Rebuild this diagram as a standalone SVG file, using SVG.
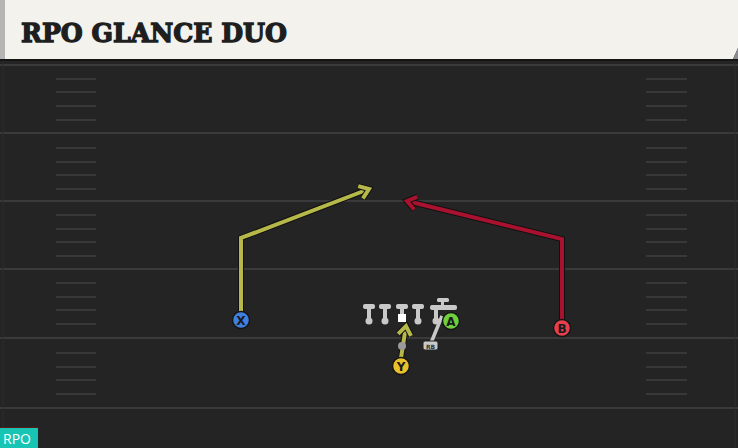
<svg xmlns="http://www.w3.org/2000/svg" width="738" height="448" viewBox="0 0 738 448">
<defs>
<style>
.yl{stroke:#3a3a3a;stroke-width:2}
.out{fill:none;stroke:#111;stroke-width:6;stroke-linejoin:miter;stroke-linecap:butt}
.ry{fill:none;stroke:#b6b94a;stroke-width:4;stroke-linejoin:miter}
.rr{fill:none;stroke:#a8122f;stroke-width:4;stroke-linejoin:miter}
.pl{stroke:#161616;stroke-width:1.5}
.lt{font-family:"DejaVu Sans",sans-serif;font-weight:bold;font-size:12px;fill:#1a1a1a;text-anchor:middle}
.ol{fill:#c9c9c9}
</style>
<marker id="ay" markerUnits="userSpaceOnUse" markerWidth="24" markerHeight="24" refX="0" refY="0" viewBox="-14 -12 18 24" orient="auto">
<path d="M-9,-6.5 L0,0 L-9,6.5" fill="none" stroke="#111" stroke-width="6"/>
<path d="M-9,-6.5 L0,0 L-9,6.5" fill="none" stroke="#b6b94a" stroke-width="4"/>
</marker>
<marker id="ar" markerUnits="userSpaceOnUse" markerWidth="24" markerHeight="24" refX="0" refY="0" viewBox="-14 -12 18 24" orient="auto">
<path d="M-9,-6.5 L0,0 L-9,6.5" fill="none" stroke="#111" stroke-width="6"/>
<path d="M-9,-6.5 L0,0 L-9,6.5" fill="none" stroke="#a8122f" stroke-width="4"/>
</marker>
</defs>
<rect width="738" height="448" fill="#242424"/>
<g id="field">
<line class="yl" x1="0" y1="65" x2="738" y2="65"/>
<line class="yl" x1="0" y1="133" x2="738" y2="133"/>
<line class="yl" x1="0" y1="201" x2="738" y2="201"/>
<line class="yl" x1="0" y1="269" x2="738" y2="269"/>
<line class="yl" x1="0" y1="338" x2="738" y2="338"/>
<line class="yl" x1="0" y1="408" x2="738" y2="408"/>
<path d="M56 79H96M56 92H96M56 106H96M56 120H96M56 148H96M56 162H96M56 175H96M56 189H96M56 215H96M56 229H96M56 242H96M56 256H96M56 283H96M56 297H96M56 310H96M56 324H96M56 353H96M56 367H96M56 380H96M56 394H96" stroke="#383838" stroke-width="2"/>
<path d="M646 79H687M646 92H687M646 106H687M646 120H687M646 148H687M646 162H687M646 175H687M646 189H687M646 215H687M646 229H687M646 242H687M646 256H687M646 283H687M646 297H687M646 310H687M646 324H687M646 353H687M646 367H687M646 380H687M646 394H687" stroke="#383838" stroke-width="2"/>
<line x1="3" y1="60" x2="3" y2="428" stroke="#2c2c2c" stroke-width="1"/>
<line x1="735" y1="60" x2="735" y2="448" stroke="#2e2e2e" stroke-width="1"/>
</g>
<g id="header">
<rect x="0" y="59" width="738" height="2" fill="#151515"/>
<path d="M0 0H738V48L733 59H0Z" fill="#f4f2ec"/>
<path d="M738 48L733 59H738Z" fill="#8a8a90"/>
<rect x="0" y="0" width="5" height="59" fill="#b5b5b5"/>
<text x="21" y="42" font-family="'DejaVu Serif',serif" font-weight="bold" font-size="26" fill="#1e1e1e" stroke="#1e1e1e" stroke-width="1.3" textLength="266" lengthAdjust="spacingAndGlyphs">RPO GLANCE DUO</text>
</g>
<g id="connectors">
<path class="out" d="M241 312V238L369 189"/>
<path class="ry" d="M241 312V238L369 189" marker-end="url(#ay)"/>
<path class="out" d="M562 320V239L407 201"/>
<path class="rr" d="M562 320V239L407 201" marker-end="url(#ar)"/>
<path class="out" d="M401 358L406 326"/>
<path class="ry" d="M401 358L406 326" marker-end="url(#ay)"/>
<line x1="431" y1="343" x2="442" y2="316" stroke="#c9c9c9" stroke-width="3.5"/>
</g>
<g id="line">
<g id="lt1"><rect class="ol" x="363" y="304" width="12" height="5" rx="2"/><rect class="ol" x="367" y="304" width="4" height="14"/><circle class="ol" cx="369" cy="321" r="3.5"/></g>
<g id="lt2"><rect class="ol" x="379" y="304" width="12" height="5" rx="2"/><rect class="ol" x="383" y="304" width="4" height="14"/><circle class="ol" cx="385" cy="321" r="3.5"/></g>
<g id="center"><rect class="ol" x="396" y="304" width="12" height="5" rx="2"/><rect class="ol" x="400" y="304" width="4" height="11"/><rect x="398" y="314" width="8" height="8" fill="#ffffff"/></g>
<g id="rt1"><rect class="ol" x="412" y="304" width="12" height="5" rx="2"/><rect class="ol" x="416" y="304" width="4" height="14"/><circle class="ol" cx="418" cy="321" r="3.5"/></g>
<g id="rt2"><rect class="ol" x="437" y="298" width="12" height="4" rx="1.5"/><rect class="ol" x="441" y="298" width="3" height="12"/><rect class="ol" x="430" y="305" width="27" height="5" rx="2"/><rect class="ol" x="434" y="305" width="4" height="13"/><circle class="ol" cx="436" cy="321" r="3.5"/></g>
<g id="qb"><circle cx="402" cy="346" r="4" fill="#9a9a9a"/></g>
<g id="rb"><rect x="423" y="341" width="15" height="9" rx="2" fill="#c9c9c9" stroke="#222" stroke-width="1"/><text x="430.5" y="348.5" font-family="'DejaVu Sans',sans-serif" font-size="6" font-weight="bold" fill="#333" text-anchor="middle">RB</text></g>
</g>
<g id="X"><circle class="pl" cx="241" cy="320" r="8.5" fill="#3f7fe0"/><text class="lt" x="241" y="324.5">X</text></g>
<g id="B"><circle class="pl" cx="562" cy="328" r="8.5" fill="#e6404e"/><text class="lt" x="562" y="332.5">B</text></g>
<g id="A"><circle class="pl" cx="451" cy="321" r="8.5" fill="#6dd03c"/><text class="lt" x="451" y="325.5">A</text></g>
<g id="Y"><circle class="pl" cx="401" cy="366" r="8.5" fill="#e9c22a"/><text class="lt" x="401" y="370.5">Y</text></g>
<g id="tag">
<rect x="0" y="427" width="38" height="1" fill="#5a1818"/>
<rect x="0" y="428" width="38" height="20" fill="#18c4b3"/>
<text x="3" y="444" font-family="'Open Sans',sans-serif" font-size="14" fill="#ffffff">RPO</text>
</g>
</svg>
